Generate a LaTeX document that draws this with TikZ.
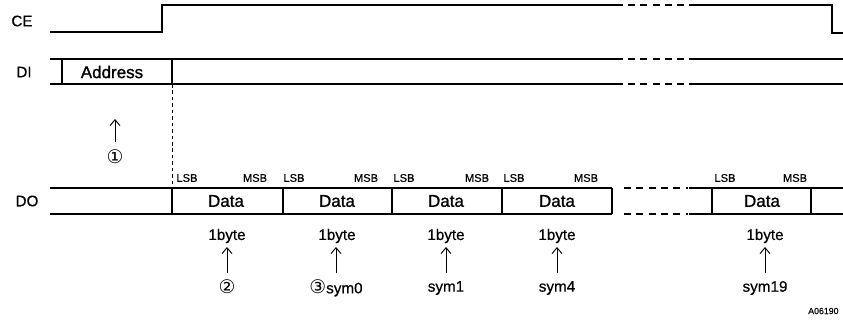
\documentclass[tikz,border=0pt]{standalone}
\usepackage{fontspec}
\setmainfont{Liberation Sans}[FakeBold=0.5]
\newfontfamily\heavy{Liberation Sans}[FakeBold=1.2]
\newfontfamily\dv{DejaVu Sans}
\usetikzlibrary{arrows.meta}
\begin{document}
\begin{tikzpicture}[x=0.03cm,y=-0.03cm,
  sig/.style={line width=1.1pt},
  dsig/.style={line width=1.1pt,dash pattern=on 6pt off 4.5pt},
  guide/.style={line width=0.7pt,dash pattern=on 3pt off 2.5pt},
  lab/.style={inner sep=0pt,font=\fontsize{13}{14}\selectfont},
  big/.style={inner sep=0pt,font=\heavy\fontsize{14.5}{16}\selectfont},
  mid/.style={inner sep=0pt,font=\fontsize{13}{14}\selectfont},
  circ/.style={inner sep=0pt,font=\dv\fontsize{16}{18}\selectfont},
  sm/.style={inner sep=0pt,font=\fontsize{9.5}{10}\selectfont},
  tiny/.style={inner sep=0pt,anchor=west,font=\fontsize{7.5}{8}\selectfont},
  up/.style={line width=0.8pt,-{Straight Barb[length=5pt,width=8.5pt]}}]
\useasboundingbox (0,0) rectangle (843,326);
% signal names
\node[lab] (ce) at (22,21) {CE};
\node[lab] (di) at (24,72) {DI};
\node[lab] (do) at (27,201) {DO};
% CE
\draw[sig] (50,32) -- (162,32) -- (162,5) -- (623,5);
\draw[dsig] (628,5) -- (688,5);
\draw[sig] (689,5) -- (832,5) -- (832,33) -- (843,33);
% DI
\draw[sig] (50,59) -- (623,59) (50,84) -- (623,84);
\draw[dsig] (628,59) -- (688,59) (628,84) -- (688,84);
\draw[sig] (689,59) -- (843,59) (689,84) -- (843,84);
\draw[sig] (62,59) -- (62,84) (172,59) -- (172,84);
\node[big] (addr) at (112,72) {Address};
% guide
\draw[guide] (172,84) -- (172,188);
% DO
\draw[sig] (50,188) -- (612,188) (50,214) -- (612,214);
\draw[dsig] (624,188) -- (688,188) (624,214) -- (688,214);
\draw[sig] (689,188) -- (843,188) (689,214) -- (843,214);
\foreach \x in {172,283,392,502,612,712,811} \draw[sig] (\x,188) -- (\x,214);
\node[big] (d1) at (226,201) {Data};
\node[big] (d2) at (337,201) {Data};
\node[big] (d3) at (446,201) {Data};
\node[big] (d4) at (557,201) {Data};
\node[big] (d5) at (762,201) {Data};
% LSB / MSB
\node[sm] (l1) at (187,178) {LSB};
\node[sm] (m1) at (255,178) {MSB};
\node[sm] (l2) at (294,178) {LSB};
\node[sm] (m2) at (366,178) {MSB};
\node[sm] (l3) at (404,178) {LSB};
\node[sm] (m3) at (477,178) {MSB};
\node[sm] (l4) at (514,178) {LSB};
\node[sm] (m4) at (586,178) {MSB};
\node[sm] (l5) at (725,178) {LSB};
\node[sm] (m5) at (795,178) {MSB};
% 1byte
\node[mid] (b1) at (227,236) {1byte};
\node[mid] (b2) at (337,236) {1byte};
\node[mid] (b3) at (446,236) {1byte};
\node[mid] (b4) at (557,236) {1byte};
\node[mid] (b5) at (765,236) {1byte};
% symbols
\node[circ] (s0) at (115,157) {①};
\node[circ] (s1) at (227,287) {②};
\node[mid] (s2) at (336,288) {{\dv\fontsize{16}{18}\selectfont ③}sym0};
\node[mid] (s3) at (446,288) {sym1};
\node[mid] (s4) at (557,288) {sym4};
\node[mid] (s5) at (765,288) {sym19};
% arrows
\coordinate (t0) at (115,119);
\draw[up] (115,142) -- (t0);
\foreach \n/\x in {1/227,2/336,3/446,4/557,5/765}{
  \coordinate (t\n) at (\x,247);
  \draw[up] (\x,273) -- (t\n);
}
\node[tiny] (ref) at (808,311) {A06190};
\end{tikzpicture}
\end{document}
